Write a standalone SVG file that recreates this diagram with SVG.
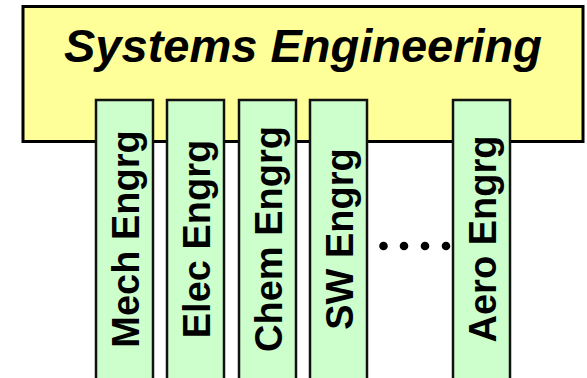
<svg xmlns="http://www.w3.org/2000/svg" width="587" height="378" viewBox="0 0 587 378">
  <style>
    .frame { fill: #FFFF99; stroke: #000; stroke-width: 3; }
    .disc { fill: #CCFFCC; stroke: #111; stroke-width: 2.5; }
    .title { font-family: "Liberation Sans", Arial, sans-serif; font-weight: bold; font-style: italic; font-size: 47px; fill: #000; }
    .lbl { font-family: "Liberation Sans", Arial, sans-serif; font-weight: bold; font-size: 38px; fill: #000; text-anchor: middle; }
  </style>
  <rect width="587" height="378" fill="#fff"/>
  <g id="systems-engineering">
    <rect class="frame" x="23" y="6.5" width="560" height="135"/>
    <text class="title" x="303" y="62" text-anchor="middle">Systems Engineering</text>
  </g>
  <g id="mech">
    <rect class="disc" x="96" y="100" width="57" height="300"/>
    <text class="lbl" transform="translate(138.5,239) rotate(-90)">Mech Engrg</text>
  </g>
  <g id="elec">
    <rect class="disc" x="167" y="100" width="57" height="300"/>
    <text class="lbl" transform="translate(209.5,239) rotate(-90)">Elec Engrg</text>
  </g>
  <g id="chem">
    <rect class="disc" x="239" y="100" width="57" height="300"/>
    <text class="lbl" transform="translate(281.5,239) rotate(-90)">Chem Engrg</text>
  </g>
  <g id="sw">
    <rect class="disc" x="310" y="100" width="57" height="300"/>
    <text class="lbl" transform="translate(352.5,239) rotate(-90)">SW Engrg</text>
  </g>
  <g id="ellipsis">
    <circle cx="383.5" cy="246" r="4.3"/>
    <circle cx="404" cy="246" r="4.3"/>
    <circle cx="425" cy="246" r="4.3"/>
    <circle cx="446" cy="246" r="4.3"/>
  </g>
  <g id="aero">
    <rect class="disc" x="453" y="100" width="57" height="300"/>
    <text class="lbl" transform="translate(495.5,239) rotate(-90)">Aero Engrg</text>
  </g>
  <g id="connectors"/>
</svg>
